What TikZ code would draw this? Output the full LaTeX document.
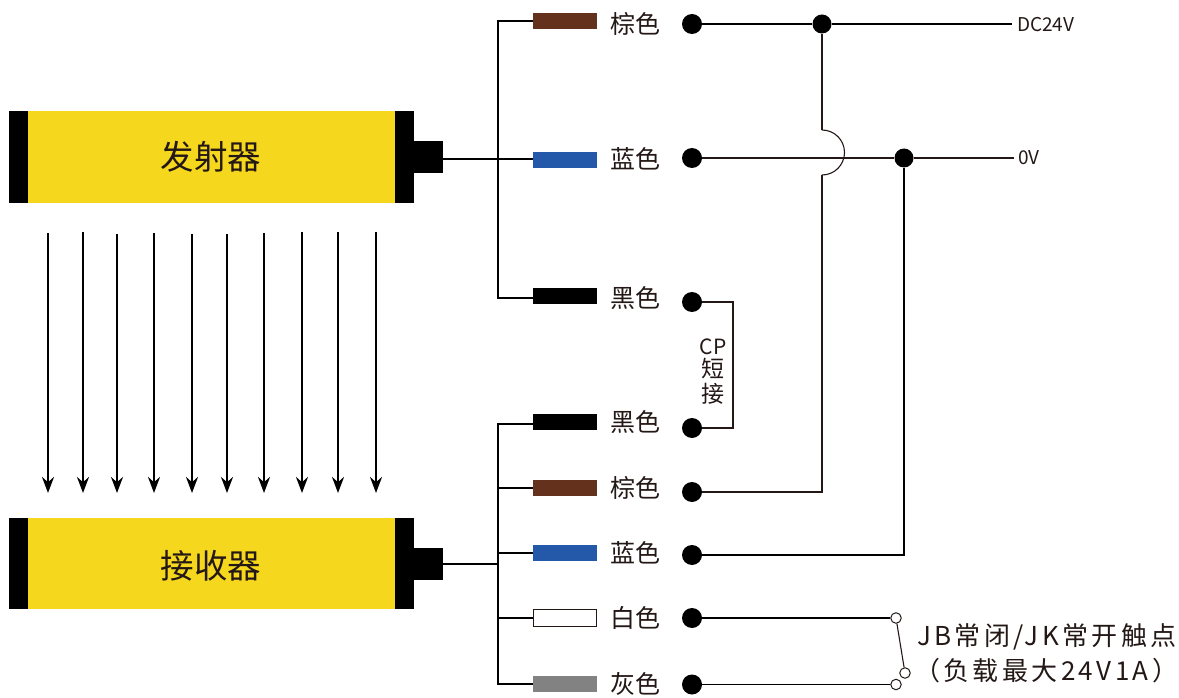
\documentclass[tikz,border=0pt]{standalone}
\usepackage{fontspec}
\setmainfont{Noto Sans CJK SC}
\newfontfamily\spaced[LetterSpace=13]{Noto Sans CJK SC}
\usetikzlibrary{arrows.meta}
\definecolor{sensoryellow}{RGB}{245,215,30}
\definecolor{wirebrown}{RGB}{100,50,28}
\definecolor{wireblue}{RGB}{36,88,168}
\definecolor{wiregrey}{RGB}{130,130,130}
\definecolor{txt}{RGB}{35,24,21}
\tikzset{
  wire/.style={line width=1.4pt,black},
  thinwire/.style={line width=1.1pt,txt},
  midwire/.style={line width=1.6pt,txt},
  thick wire/.style={line width=2.2pt,black},
  dot/.style={circle,fill=black,inner sep=0pt,minimum size=20pt},
  smalldot/.style={circle,fill=black,inner sep=0pt,minimum size=19pt},
  ring/.style={circle,draw=txt,fill=white,line width=1pt,inner sep=0pt,minimum size=10.5pt},
  bar/.style={rectangle,inner sep=0pt,minimum width=64pt,minimum height=16pt},
  lab/.style={text=txt,font=\fontsize{25}{26}\selectfont,inner sep=0pt},
  title/.style={text=txt,font=\fontsize{33.5}{35}\selectfont,inner sep=0pt},
  small/.style={text=txt,font=\fontsize{19}{20}\selectfont,inner sep=0pt},
  beam/.style={line width=2pt,black,-{Stealth[length=16pt,width=12pt]}},
  sblack/.style={fill=black,draw=none},
  syellow/.style={fill=sensoryellow,draw=none}
}
\begin{document}
\begin{tikzpicture}[x=1pt,y=-1pt]
\useasboundingbox (0,0) rectangle (1179,698);
% emitter
\fill[syellow] (28,111) rectangle (395,203);
\fill[sblack] (9,111) rectangle (28,203);
\fill[sblack] (395,111) rectangle (414,203);
\fill[sblack] (414,141) rectangle (443,173);
\node[title] (emit) at (211,157) {发射器};
% receiver
\fill[syellow] (28,518) rectangle (395,609);
\fill[sblack] (9,518) rectangle (28,609);
\fill[sblack] (395,518) rectangle (414,609);
\fill[sblack] (414,548) rectangle (443,580);
\node[title] (recv) at (211,566) {接收器};
% beams
\foreach \x/\n/\s in {48/a/233,83/b/232,117/c/234,154/d/233,192/e/234,227/f/234,264/g/233,302/h/232,338/i/232,376/j/232}{
  \coordinate (bs\n) at (\x,\s);
  \coordinate (be\n) at (\x,493);
  \draw[beam] (bs\n) -- (be\n);
}
% coordinates
\coordinate (c1) at (443,159);
\coordinate (c2) at (443,564);
% bars
\node[bar,fill=wirebrown] (b1) at (565,21) {};
\node[bar,fill=wireblue] (b2) at (565,160) {};
\node[bar,fill=black] (b3) at (565,296) {};
\node[bar,fill=black] (b4) at (565,422) {};
\node[bar,fill=wirebrown] (b5) at (565,488) {};
\node[bar,fill=wireblue] (b6) at (565,553) {};
\node[bar,draw=txt,fill=white,line width=.8pt,minimum width=63pt,minimum height=17pt] (b7) at (565,618) {};
\node[bar,fill=wiregrey] (b8) at (565,684) {};
\coordinate (w3) at (533,298);
\coordinate (w4) at (533,424);
% labels
\node[lab] (l1) at (635,24) {棕色};
\node[lab] (l2) at (635,159) {蓝色};
\node[lab] (l3) at (635,298) {黑色};
\node[lab] (l4) at (635,422) {黑色};
\node[lab] (l5) at (635,488) {棕色};
\node[lab] (l6) at (635,553) {蓝色};
\node[lab] (l7) at (635,618) {白色};
\node[lab] (l8) at (635,684) {灰色};
% left buses
\draw[wire] (b1.west) -- (498,21) -- (498,298) -- (w3);
\draw[wire] (c1) -- (b2.west |- c1);
\draw[wire] (w4) -- (498,424) -- (498,684) -- (b8.west);
\draw[wire] (c2) -- (498,564);
\draw[wire] (498,488) -- (b5.west);
\draw[wire] (498,553) -- (b6.west);
\draw[wire] (498,618) -- (b7.west);
% dots
\node[dot] (d1) at (692,24) {};
\node[dot] (d2) at (692,158) {};
\node[dot] (d3) at (692,302) {};
\node[dot] (d4) at (692,428) {};
\node[dot] (d5) at (692,492) {};
\node[dot] (d6) at (692,555) {};
\node[dot] (d7) at (692,618) {};
\node[dot] (d8) at (692,684.5) {};
\node[smalldot] (j1) at (822,24) {};
\node[smalldot] (j2) at (904,158) {};
% right wires
\coordinate (dc) at (1012,24);
\coordinate (zero) at (1014,158);
\draw[thick wire] (d1) -- (j1);
\draw[thick wire] (j1) -- (dc);
\draw[thinwire] (d2) -- (j2);
\draw[thinwire] (j2) -- (zero);
\draw[midwire] (j1) -- (822,130);
\draw[thinwire] (822,130) arc[start angle=-90,end angle=90,radius=22.5];
\draw[midwire] (822,175) -- (822,492) -- (d5);
\draw[thick wire] (j2) -- (904,555) -- (d6);
\draw[midwire] (d3) -- (733,302) -- (733,428) -- (d4);
\node[small,anchor=west] (tdc) at (1017,25) {DC24V};
\node[small,anchor=west] (t0) at (1018,158) {0V};
\node[text=txt,font=\fontsize{21}{25}\selectfont,inner sep=0pt] (cp) at (713,347) {CP};
\node[text=txt,font=\fontsize{23}{25}\selectfont,inner sep=0pt] (cp2) at (713,369) {短};
\node[text=txt,font=\fontsize{23}{25}\selectfont,inner sep=0pt] (cp3) at (713,394) {接};
% contact
\node[ring] (r1) at (896,618) {};
\node[ring] (r2) at (896,684.5) {};
\node[ring] (r3) at (905,673) {};
\draw[wire] (d7) -- (r1);
\draw[wire] (d8) -- (r2);
\draw[thinwire] (r1) -- (r3);
\node[text=txt,font=\spaced\fontsize{26}{30}\selectfont,inner sep=0pt,anchor=west] (t1) at (917,637) {JB常闭/JK常开触点};
\node[text=txt,font=\spaced\fontsize{26}{30}\selectfont,inner sep=0pt,anchor=west] (t2) at (914,671) {（负载最大24V1A）\kern-12pt};
\end{tikzpicture}
\end{document}
